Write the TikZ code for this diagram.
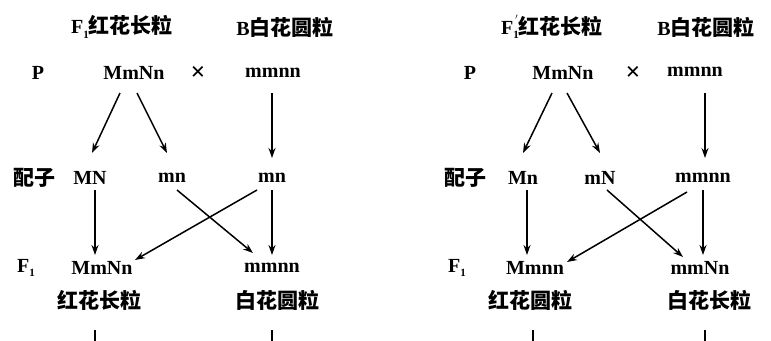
\documentclass[tikz,border=0pt]{standalone}
\usepackage{fontspec}
\setmainfont{Liberation Serif}
\newfontfamily\cjk{Noto Sans CJK SC}
\usetikzlibrary{arrows.meta,calc}
\newcommand{\subone}{\raisebox{-0.22em}{\fontsize{11}{11}\selectfont 1}}
\newcommand{\Fone}{F\subone}
\newcommand{\Fonep}{F\makebox[0pt][l]{\raisebox{0.5em}{\fontsize{12}{12}\selectfont\,$'$}}\subone}
\begin{document}
\begin{tikzpicture}[x=1pt,y=-1pt,
  lat/.style={inner sep=0pt,font=\fontsize{20}{20}\selectfont\bfseries},
  cross/.style={inner sep=0pt,font=\fontsize{26}{26}\selectfont\bfseries},
  zh/.style={inner sep=0pt,font=\fontsize{21}{21}\selectfont\bfseries\cjk},
  arr/.style={line width=1.5pt,-{Stealth[length=10pt,width=7pt]}},
  stub/.style={line width=1.5pt}]
\useasboundingbox[fill=white] (0,0) rectangle (771,340);
% ---------- left panel ----------
\node[zh] (t1) at (122,27) {{\fontsize{20}{20}\selectfont\bfseries\rmfamily\Fone}红花长粒};
\node[zh] (t2) at (285,27) {{\fontsize{20}{20}\selectfont\bfseries\rmfamily B}白花圆粒};
\node[lat] (p1) at (38,73) {P};
\node[lat] (a) at (134,73) {MmNn};
\node[cross] (x1) at (198,73) {×};
\node[lat] (b) at (273,73) {mmnn};
\node[zh] (g0) at (34,178) {配子};
\node[lat] (g1) at (90,178) {MN};
\node[lat] (g2) at (172,178) {mn};
\node[lat] (g3) at (272,178) {mn};
\node[lat] (fl) at (26,268) {\Fone};
\node[lat] (f1) at (102,268) {MmNn};
\node[lat] (f2) at (272,268) {mmnn};
\node[zh] (c1) at (99,300) {红花长粒};
\node[zh] (c2) at (277,300) {白花圆粒};
\draw[arr] ($(a)+(-14,20)$) -- ($(g1)+(2,-25)$);
\draw[arr] ($(a)+(3,20)$) -- ($(g2)+(-5,-25)$);
\draw[arr] ($(b)+(-1,20)$) -- ($(g3)+(0,-20)$);
\draw[arr] ($(g1)+(5,12)$) -- ($(f1)+(-7,-13)$);
\draw[arr] ($(g2)+(5,12)$) -- ($(f2)+(-19,-15)$);
\draw[arr] ($(g3)+(-15,12)$) -- ($(f1)+(33,-8)$);
\draw[arr] ($(g3)+(0,12)$) -- ($(f2)+(0,-13)$);
\coordinate (s1) at (95,341);
\coordinate (s2) at (272,341);
\draw[stub] ($(c1)+(-4,30)$) -- (s1);
\draw[stub] ($(c2)+(-5,30)$) -- (s2);
% ---------- right panel ----------
\node[zh] (t3) at (552,27) {{\fontsize{20}{20}\selectfont\bfseries\rmfamily\Fonep}红花长粒};
\node[zh] (t4) at (706,27) {{\fontsize{20}{20}\selectfont\bfseries\rmfamily B}白花圆粒};
\node[lat] (p2) at (470,73) {P};
\node[lat] (ra) at (563,73) {MmNn};
\node[cross] (x2) at (633,73) {×};
\node[lat] (rb) at (695,72) {mmnn};
\node[zh] (h0) at (465,178) {配子};
\node[lat] (h1) at (523,178) {Mn};
\node[lat] (h2) at (600,178) {mN};
\node[lat] (h3) at (703,178) {mmnn};
\node[lat] (fr) at (457,268) {\Fone};
\node[lat] (k1) at (535,268) {Mmnn};
\node[lat] (k2) at (700,268) {mmNn};
\node[zh] (d1) at (530,300) {红花圆粒};
\node[zh] (d2) at (709,300) {白花长粒};
\draw[arr] ($(ra)+(-11,20)$) -- ($(h1)+(0,-25)$);
\draw[arr] ($(ra)+(4,20)$) -- ($(h2)+(0,-25)$);
\draw[arr] ($(rb)+(10,21)$) -- ($(h3)+(2,-20)$);
\draw[arr] ($(h1)+(4,12)$) -- ($(k1)+(-8,-13)$);
\draw[arr] ($(h2)+(7,12)$) -- ($(k2)+(-17,-11)$);
\draw[arr] ($(h3)+(-16,14)$) -- ($(k1)+(32,-6)$);
\draw[arr] ($(h3)+(0,12)$) -- ($(k2)+(3,-13)$);
\coordinate (s3) at (533,341);
\coordinate (s4) at (705,341);
\draw[stub] ($(d1)+(3,30)$) -- (s3);
\draw[stub] ($(d2)+(-4,30)$) -- (s4);
\end{tikzpicture}
\end{document}
